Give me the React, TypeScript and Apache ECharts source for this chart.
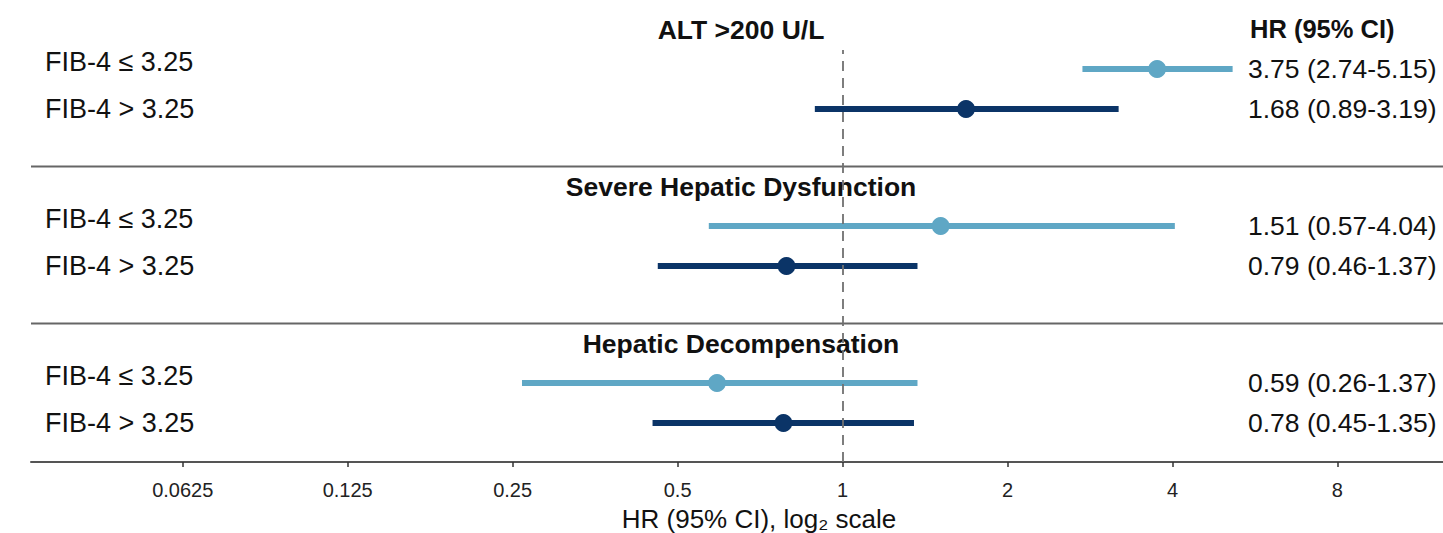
import React, { useEffect, useRef } from 'react';
import * as echarts from 'echarts';

// ---------- data ----------
const sectionTitles = ['ALT >200 U/L', 'Severe Hepatic Dysfunction', 'Hepatic Decompensation'];
const rowLabels = ['FIB-4 ≤ 3.25', 'FIB-4 > 3.25'];

const hrAlt = [3.75, 1.68];
const loAlt = [2.74, 0.89];
const hiAlt = [5.15, 3.19];

const hrSevere = [1.51, 0.79];
const loSevere = [0.57, 0.46];
const hiSevere = [4.04, 1.37];

const hrDecomp = [0.59, 0.78];
const loDecomp = [0.26, 0.45];
const hiDecomp = [1.37, 1.35];

const tickValues = [0.0625, 0.125, 0.25, 0.5, 1, 2, 4, 8];
const referenceHR = 1;
const axisMinHR = Math.pow(2, -4.92);
const axisMaxHR = Math.pow(2, 3.64);

const headerText = 'HR (95% CI)';
const axisTitle = 'HR (95% CI), log₂ scale';

// ---------- style ----------
const FONT = "'Liberation Sans', Arial, Helvetica, sans-serif";
const rowColors = ['#5fa7c5', '#0b3467'];
const TEXT = '#111111';

const sections = [
  { hr: hrAlt, lo: loAlt, hi: hiAlt },
  { hr: hrSevere, lo: loSevere, hi: hiSevere },
  { hr: hrDecomp, lo: loDecomp, hi: hiDecomp },
];

const fmt = (v: number) => v.toFixed(2);

export default function App() {
  const ref = useRef<HTMLDivElement>(null);

  useEffect(() => {
    if (!ref.current) return;
    const chart = echarts.init(ref.current, undefined, { renderer: 'svg' });

    const gridLeft = 31;
    const rowTops = [49, 206, 363];
    const xMin = Math.log2(axisMinHR);
    const xMax = Math.log2(axisMaxHR);

    const grids: any[] = rowTops.map((t) => ({
      left: gridLeft,
      right: 0,
      top: t,
      height: 80,
      outerBoundsMode: 'none',
    }));
    grids.push({ left: gridLeft, right: 0, top: 50, bottom: 71, outerBoundsMode: 'none' });

    const xAxes: any[] = rowTops.map((_, g) => ({
      type: 'value',
      gridIndex: g,
      min: xMin,
      max: xMax,
      show: false,
    }));
    const tickLogs = tickValues.map((v) => Math.log2(v));
    xAxes.push({
      type: 'value',
      gridIndex: 3,
      min: xMin,
      max: xMax,
      splitLine: { show: false },
      axisLine: { show: true, lineStyle: { color: '#555555', width: 2 } },
      axisTick: {
        show: true,
        length: 5,
        customValues: tickLogs,
        lineStyle: { color: '#333333', width: 1.5 },
      },
      axisLabel: {
        customValues: tickLogs,
        formatter: (v: number) => String(Number(Math.pow(2, v).toPrecision(6))),
        fontSize: 20,
        fontFamily: FONT,
        color: '#222222',
        margin: 18,
      },
    });

    const yAxes: any[] = [];
    sections.forEach((s, g) => {
      yAxes.push({
        type: 'category',
        gridIndex: g,
        data: rowLabels,
        inverse: true,
        position: 'left',
        axisLine: { show: false },
        axisTick: { show: false },
        splitLine: { show: false },
        axisLabel: {
          inside: true,
          margin: 14,
          fontSize: 27,
          fontFamily: FONT,
          color: TEXT,
          formatter: (v: string) => (v.indexOf('≤') >= 0 ? `{up|${v}}` : `{n|${v}}`),
          rich: {
            up: { fontSize: 27, fontFamily: FONT, color: TEXT, padding: [0, 0, 15, 0] },
            n: { fontSize: 27, fontFamily: FONT, color: TEXT },
          },
        },
      });
      yAxes.push({
        type: 'category',
        gridIndex: g,
        data: s.hr.map((h, i) => `${fmt(h)} (${fmt(s.lo[i])}-${fmt(s.hi[i])})`),
        inverse: true,
        position: 'right',
        axisLine: { show: false },
        axisTick: { show: false },
        splitLine: { show: false },
        axisLabel: {
          inside: true,
          margin: 195,
          align: 'left',
          fontSize: 26.5,
          fontFamily: FONT,
          color: TEXT,
        },
      });
    });
    yAxes.push({ type: 'value', gridIndex: 3, min: 0, max: 1, show: false });

    const series: any[] = [];
    sections.forEach((s, g) => {
      series.push({
        type: 'custom',
        xAxisIndex: g,
        yAxisIndex: g * 2,
        z: 2,
        encode: { x: [0, 1], y: 2 },
        data: s.hr.map((_, i) => [Math.log2(s.lo[i]), Math.log2(s.hi[i]), i]),
        renderItem: (params: any, api: any) => {
          const idx = api.value(2);
          const p1 = api.coord([api.value(0), idx]);
          const p2 = api.coord([api.value(1), idx]);
          return {
            type: 'line',
            shape: { x1: p1[0], y1: p1[1], x2: p2[0], y2: p2[1] },
            style: { stroke: rowColors[params.dataIndex], lineWidth: 6 },
          };
        },
      });
      series.push({
        type: 'scatter',
        xAxisIndex: g,
        yAxisIndex: g * 2,
        z: 3,
        symbol: 'circle',
        symbolSize: 18,
        data: s.hr.map((h, i) => ({
          value: [Math.log2(h), i],
          itemStyle: { color: rowColors[i], opacity: 1 },
        })),
      });
    });
    series.push({
      type: 'line',
      xAxisIndex: 3,
      yAxisIndex: 6,
      z: 5,
      data: [],
      markLine: {
        silent: true,
        symbol: ['none', 'none'],
        label: { show: false },
        lineStyle: { type: [10, 7], color: '#707070', width: 1.8 },
        data: [{ xAxis: Math.log2(referenceHR) }],
      },
    });

    const sepYs = [166.5, 323.5];
    const titleYs = [30, 187, 344];
    const graphic: any[] = [
      ...sepYs.map((y) => ({
        type: 'line',
        shape: { x1: gridLeft, y1: y, x2: 1443, y2: y },
        style: { stroke: '#666666', lineWidth: 2 },
        z: 1,
      })),
      ...sectionTitles.map((t, i) => ({
        type: 'text',
        x: 741,
        y: titleYs[i],
        style: {
          text: t,
          fontSize: 26.5,
          fontWeight: 'bold',
          fontFamily: FONT,
          fill: TEXT,
          align: 'center',
          verticalAlign: 'middle',
        },
      })),
      {
        type: 'text',
        x: 1250,
        y: 29,
        style: {
          text: headerText,
          fontSize: 25.5,
          fontWeight: 'bold',
          fontFamily: FONT,
          fill: TEXT,
          align: 'left',
          verticalAlign: 'middle',
        },
      },
      {
        type: 'text',
        x: 759,
        y: 519,
        style: {
          text: axisTitle,
          fontSize: 26,
          fontFamily: FONT,
          fill: TEXT,
          align: 'center',
          verticalAlign: 'middle',
        },
      },
    ];

    chart.setOption({
      animation: false,
      backgroundColor: '#ffffff',
      grid: grids,
      xAxis: xAxes,
      yAxis: yAxes,
      series,
      graphic,
    });

    return () => chart.dispose();
  }, []);

  return (
    <div
      ref={ref}
      style={{ position: 'fixed', left: 0, top: 0, width: 1443, height: 533 }}
    />
  );
}
